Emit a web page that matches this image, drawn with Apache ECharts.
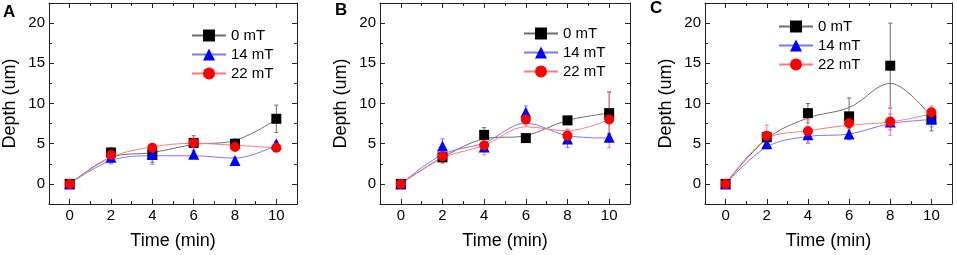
<!DOCTYPE html>
<html lang="en">
<head>
    <meta charset="UTF-8">
    <title>Depth vs Time</title>
    <script src="https://cdn.jsdelivr.net/npm/echarts@6.0.0/dist/echarts.min.js"></script>
    <style>
        html, body, #chart {
            width: 957px;
            height: 255px;
            padding: 0;
            margin: 0;
            background: #fff;
        }
    </style>
</head>
<body>
<div id="chart"></div>
<script>
    // time points (min)
    var times = [0, 2, 4, 6, 8, 10];
    var majorX = [0, 2, 4, 6, 8, 10];
    var minorX = [1, 3, 5, 7, 9];
    var majorY = [0, 5, 10, 15, 20];
    var minorY = [2.5, 7.5, 12.5, 17.5];
    var seriesNames = ["0 mT", "14 mT", "22 mT"];
    var panelNames = ["A", "B", "C"];

    // panel A
    var a0 = [0, 3.9, 3.7, 5.1, 5.0, 8.1];
    var a14 = [0, 3.3, 3.65, 3.7, 2.9, 5.0];
    var a22 = [0, 3.6, 4.5, 5.1, 4.6, 4.5];
    var a0Err = [0, 0.6, 1.0, 0.9, 0.6, 1.7];
    var a14Err = [0, 0.8, 1.2, 0.4, 0.4, 0.3];
    var a22Err = [0, 0.5, 0.5, 0.5, 0.4, 0.3];
    var a0Fit = [0, 3.3, 3.9, 4.9, 5.4, 8.0];
    var a14Fit = [0, 2.9, 3.5, 3.5, 3.2, 4.8];
    var a22Fit = [0, 3.3, 4.6, 5.05, 4.8, 4.5];

    // panel B
    var b0 = [0, 3.3, 6.1, 5.7, 7.9, 8.8];
    var b14 = [0, 4.7, 4.6, 8.9, 5.6, 5.8];
    var b22 = [0, 3.4, 4.8, 8.0, 6.0, 8.0];
    var b0Err = [0, 0.7, 0.9, 0.2, 0.2, 2.6];
    var b14Err = [0, 0.9, 0.6, 0.8, 1.1, 0.5];
    var b22Err = [0, 0.6, 1.2, 0.7, 0.8, 3.5];
    var b0Fit = [0, 3.3, 5.6, 6.0, 7.9, 8.8];
    var b14Fit = [0, 3.65, 5.1, 7.55, 6.0, 5.7];
    var b22Fit = [0, 3.2, 4.8, 7.1, 6.6, 8.0];

    // panel C
    var c0 = [0, 5.8, 8.8, 8.4, 14.7, 8.0];
    var c14 = [0, 5.0, 6.1, 6.2, 7.7, 8.1];
    var c22 = [0, 6.0, 6.55, 7.55, 7.75, 8.9];
    var c0Err = [0, 0.6, 1.2, 2.3, 5.3, 1.4];
    var c14Err = [0, 0.4, 1.0, 0.7, 1.0, 1.0];
    var c22Err = [0, 1.3, 1.5, 0.9, 1.7, 0.8];
    var c0Fit = [0, 5.6, 8.2, 9.5, 12.5, 8.3];
    var c14Fit = [0, 4.6, 5.9, 6.2, 7.5, 8.0];
    var c22Fit = [0, 5.6, 6.6, 7.3, 7.7, 8.7];

    var panels = [
        {vals: [a0, a14, a22], errs: [a0Err, a14Err, a22Err], fits: [a0Fit, a14Fit, a22Fit]},
        {vals: [b0, b14, b22], errs: [b0Err, b14Err, b22Err], fits: [b0Fit, b14Fit, b22Fit]},
        {vals: [c0, c14, c22], errs: [c0Err, c14Err, c22Err], fits: [c0Fit, c14Fit, c22Fit]}
    ];

    var font = "'Liberation Sans', Arial, sans-serif";
    var axisColor = "#222";
    var markColors = ["#000000", "#0000ff", "#ff0000"];
    var fitColors = ["#6e6e6e", "#7878ff", "#ff7a7a"];
    var symbols = ["rect", "triangle", "circle"];

    var grids = [
        {left: 48, top: 3, width: 249, height: 201},
        {left: 380, top: 3, width: 250, height: 201},
        {left: 705, top: 3, width: 247, height: 201}
    ];
    var legendPos = [
        {left: 186, top: 23},
        {left: 518, top: 21},
        {left: 773, top: 14}
    ];
    var letterPos = [[3, 4], [335, 2], [650, 0]];

    var xAxes = [], yAxes = [], series = [], legends = [], graphics = [];

    function pair(xs, ys) {
        return xs.map(function (x, i) { return [x, ys[i]]; });
    }

    panels.forEach(function (p, g) {
        var xBase = xAxes.length, yBase = yAxes.length;
        // main axes (bottom / left) with labels + major ticks, then minor, then mirrored top/right
        [["bottom", true, majorX, 5], ["bottom", false, minorX, 3],
         ["top", true, majorX, 5], ["top", false, minorX, 3]].forEach(function (d, k) {
            xAxes.push({
                gridIndex: g, type: "value", position: d[0], min: -1, max: 11,
                name: k === 0 ? "Time (min)" : "", nameLocation: "middle", nameGap: 28,
                nameTextStyle: {fontFamily: font, fontSize: 18, color: "#000"},
                axisLine: {show: d[1], onZero: false, lineStyle: {color: axisColor, width: 1}},
                axisTick: {show: true, inside: true, length: d[3], customValues: d[2],
                    lineStyle: {color: axisColor, width: 1}},
                axisLabel: {show: k === 0, customValues: majorX, margin: 4,
                    fontFamily: font, fontSize: 15, color: "#000"},
                splitLine: {show: false}
            });
        });
        [["left", true, majorY, 5], ["left", false, minorY, 3],
         ["right", true, majorY, 5], ["right", false, minorY, 3]].forEach(function (d, k) {
            yAxes.push({
                gridIndex: g, type: "value", position: d[0], min: -2.5, max: 22.5,
                name: k === 0 ? "Depth (um)" : "", nameLocation: "middle", nameGap: 30,
                nameTextStyle: {fontFamily: font, fontSize: 18, color: "#000"},
                axisLine: {show: d[1], onZero: false, lineStyle: {color: axisColor, width: 1}},
                axisTick: {show: true, inside: true, length: d[3], customValues: d[2],
                    lineStyle: {color: axisColor, width: 1}},
                axisLabel: {show: k === 0, customValues: majorY, margin: 4,
                    fontFamily: font, fontSize: 15, color: "#000"},
                splitLine: {show: false}
            });
        });

        // fitted curves (these carry the legend icons)
        p.fits.forEach(function (f, s) {
            series.push({
                type: "line", name: seriesNames[s], xAxisIndex: xBase, yAxisIndex: yBase,
                data: pair(times, f), smooth: 0.35, showSymbol: false, symbol: symbols[s],
                itemStyle: {color: markColors[s]},
                lineStyle: {color: fitColors[s], width: 1},
                silent: true, z: 2, animation: false
            });
        });
        // error bars
        p.vals.forEach(function (v, s) {
            series.push({
                type: "custom", name: seriesNames[s], xAxisIndex: xBase, yAxisIndex: yBase,
                data: times.map(function (x, i) { return [x, v[i], p.errs[s][i]]; }),
                renderItem: function (params, api) {
                    var x = api.value(0), y = api.value(1), e = api.value(2);
                    var lo = api.coord([x, y - e]), hi = api.coord([x, y + e]);
                    var st = {stroke: fitColors[s], lineWidth: 1};
                    return {
                        type: "group",
                        children: [
                            {type: "line", shape: {x1: lo[0], y1: lo[1], x2: hi[0], y2: hi[1]}, style: st},
                            {type: "line", shape: {x1: lo[0] - 2, y1: lo[1], x2: lo[0] + 2, y2: lo[1]}, style: st},
                            {type: "line", shape: {x1: hi[0] - 2, y1: hi[1], x2: hi[0] + 2, y2: hi[1]}, style: st}
                        ]
                    };
                },
                z: 3, silent: true, animation: false
            });
        });
        // markers
        p.vals.forEach(function (v, s) {
            series.push({
                type: "scatter", name: seriesNames[s], xAxisIndex: xBase, yAxisIndex: yBase,
                data: pair(times, v), symbol: symbols[s], symbolSize: s === 1 ? 11 : 10,
                itemStyle: {color: markColors[s], opacity: 1},
                z: 4, silent: true, animation: false
            });
        });

        legends.push({
            orient: "vertical", left: legendPos[g].left, top: legendPos[g].top,
            itemWidth: 34, itemHeight: 15, itemGap: 4,
            data: seriesNames.slice(),
            selectedMode: false,
            textStyle: {fontFamily: font, fontSize: 15, color: "#000"}
        });

        graphics.push({
            type: "text", left: letterPos[g][0], top: letterPos[g][1],
            style: {text: panelNames[g], font: "bold 17px " + font, fill: "#000"}
        });
    });

    var chart = echarts.init(document.getElementById("chart"), null, {renderer: "canvas"});
    chart.setOption({
        animation: false,
        backgroundColor: "#fff",
        grid: grids,
        xAxis: xAxes,
        yAxis: yAxes,
        legend: legends,
        graphic: graphics,
        series: series
    });
</script>
</body>
</html>
